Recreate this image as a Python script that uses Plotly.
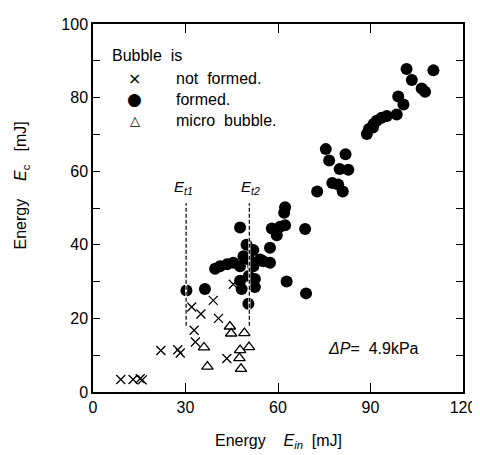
import plotly.graph_objects as go

# ---- data ----
not_formed_x = [9.0, 13.0, 15.3, 16.0, 22.0, 27.5, 28.3, 32.0, 35.0, 39.0, 40.7, 32.8, 33.2, 43.4, 45.5]
not_formed_y = [3.4, 3.4, 3.6, 3.3, 11.3, 11.5, 10.6, 23.1, 21.2, 24.9, 20.0, 16.8, 13.6, 9.1, 29.3]

formed_x = [30.3, 36.3, 50.4,
            47.7, 62.3, 62.0, 58.0, 60.7, 62.3, 59.6, 68.8, 57.4, 49.8, 52.0, 48.8,
            57.4, 55.2, 54.2, 45.5, 41.2, 39.6, 43.5, 47.7, 52.0, 47.7, 52.5, 52.5,
            48.2, 50.5, 50.7, 62.8, 69.1,
            75.5, 76.6, 81.9, 80.0, 82.8, 77.6, 79.5, 81.0, 72.7,
            88.8, 89.5, 90.8, 91.0, 92.0, 93.6, 95.3, 98.5, 100.7, 99.0,
            101.7, 110.4, 103.4, 106.6, 107.7]
formed_y = [27.6, 28.0, 24.0,
            44.7, 50.2, 48.7, 44.4, 44.9, 45.3, 42.6, 44.3, 39.2, 40.0, 38.6, 36.9,
            35.1, 35.5, 36.0, 35.1, 34.2, 33.5, 34.7, 34.2, 34.2, 30.2, 30.7, 28.5,
            28.0, 31.5, 36.0, 30.0, 26.8,
            66.0, 62.9, 64.6, 60.6, 60.4, 56.8, 56.4, 54.5, 54.5,
            70.1, 71.5, 71.9, 72.8, 73.7, 74.5, 75.0, 75.4, 78.1, 80.3,
            87.8, 87.4, 84.8, 82.5, 81.6]

micro_x = [36.0, 37.1, 44.4, 44.8, 49.1, 47.7, 47.5, 50.6, 48.0]
micro_y = [12.1, 6.9, 17.8, 15.9, 16.0, 11.4, 9.2, 12.2, 6.3]

threshold_x = [30.2, 50.7]          # E_t1, E_t2
threshold_labels = ["<i>E</i><sub><i>t1</i></sub>", "<i>E</i><sub><i>t2</i></sub>"]
threshold_y_span = [18.0, 51.3]

x_ticks = [0, 30, 60, 90, 120]
y_major_step = 20
y_minor_step = 10

FONT = "Liberation Sans, Arial, Helvetica, sans-serif"

fig = go.Figure()

fig.add_trace(go.Scatter(
    x=formed_x, y=formed_y, mode="markers", name="formed.",
    marker=dict(symbol="circle", size=12, color="black", line=dict(width=0)),
))
fig.add_trace(go.Scatter(
    x=not_formed_x, y=not_formed_y, mode="markers", name="not formed.",
    marker=dict(symbol="x-thin-open", size=9, color="black", line=dict(width=1.3, color="black")),
))
fig.add_trace(go.Scatter(
    x=micro_x, y=micro_y, mode="markers", name="micro bubble.",
    marker=dict(symbol="triangle-up-open", size=10, color="black", line=dict(width=1.3, color="black")),
))

# threshold dashed lines (white underlay so they show through the dots)
for tx in threshold_x:
    fig.add_shape(type="line", xref="x", yref="y", x0=tx, x1=tx,
                  y0=threshold_y_span[0], y1=threshold_y_span[1],
                  line=dict(color="white", width=2.2), layer="above")
    fig.add_shape(type="line", xref="x", yref="y", x0=tx, x1=tx,
                  y0=threshold_y_span[0], y1=threshold_y_span[1],
                  line=dict(color="black", width=1.2, dash="4px,2px"), layer="above")

annotations = []
for tx, lab, dx in zip(threshold_x, threshold_labels, [-0.7, 0.5]):
    annotations.append(dict(x=tx + dx, y=55.6, xref="x", yref="y", text=lab,
                            xanchor="center", yanchor="middle",
                            showarrow=False, font=dict(size=15, family=FONT, color="black")))

annotations.append(dict(x=75.6, y=11.7, xref="x", yref="y", xanchor="left", yanchor="middle",
                        text="<i>ΔP</i>=\u00a0\u00a04.9kPa", showarrow=False,
                        font=dict(size=16, family=FONT, color="black")))

# legend block
annotations.append(dict(x=5.5, y=91.5, xref="x", yref="y", xanchor="left", yanchor="middle",
                        text="Bubble\u00a0\u00a0is", showarrow=False,
                        font=dict(size=16, family=FONT, color="black")))
legend_rows = [("×", "not\u00a0\u00a0formed.", 85.1, 16),
               ("●", "formed.", 79.5, 17),
               ("△", "micro\u00a0\u00a0bubble.", 73.7, 13)]
for sym, txt, yy, fs in legend_rows:
    annotations.append(dict(x=13.6, y=yy, xref="x", yref="y", text=sym, showarrow=False,
                            xanchor="center", yanchor="middle",
                            font=dict(size=fs, family="DejaVu Sans", color="black")))
    annotations.append(dict(x=26.3, y=yy, xref="x", yref="y", xanchor="left", yanchor="middle",
                            text=txt, showarrow=False,
                            font=dict(size=16, family=FONT, color="black")))

# axis titles
annotations.append(dict(x=0.5, y=-0.1356, xref="paper", yref="paper",
                        xanchor="center", yanchor="middle",
                        text="Energy\u00a0\u00a0\u00a0\u00a0<i>E</i><sub><i>in</i></sub>\u00a0\u00a0[mJ]",
                        showarrow=False, font=dict(size=16, family=FONT, color="black")))
annotations.append(dict(x=-0.192, y=0.561, xref="paper", yref="paper", textangle=-90,
                        xanchor="center", yanchor="middle",
                        text="Energy\u00a0\u00a0\u00a0\u00a0<i>E</i><sub>c</sub>\u00a0\u00a0\u00a0[mJ]",
                        showarrow=False, font=dict(size=16, family=FONT, color="black")))

# page body has an 8px margin, so the figure is shifted; margins compensate
fig.update_layout(
    width=480, height=455,
    margin=dict(l=85, r=25, t=8, b=71),
    paper_bgcolor="white", plot_bgcolor="white",
    showlegend=False,
    font=dict(family=FONT, size=16, color="black"),
    annotations=annotations,
)
fig.update_xaxes(range=[0, 120], tickvals=x_ticks, ticks="inside", ticklen=9, tickwidth=1.2,
                 tickcolor="black", showline=True, linecolor="black", linewidth=1.5,
                 mirror="ticks", showgrid=False, zeroline=False,
                 tickfont=dict(size=16, family=FONT, color="black"))
fig.update_yaxes(range=[0, 100], dtick=y_major_step, tick0=0, ticks="inside",
                 ticklen=7, tickwidth=1.2, tickcolor="black", showline=True, linecolor="black",
                 linewidth=1.5, mirror="ticks", showgrid=False, zeroline=False,
                 minor=dict(dtick=y_minor_step, ticks="inside", ticklen=7, tickwidth=1.2,
                            tickcolor="black", showgrid=False),
                 tickfont=dict(size=16, family=FONT, color="black"))

fig.write_html("out.html")
